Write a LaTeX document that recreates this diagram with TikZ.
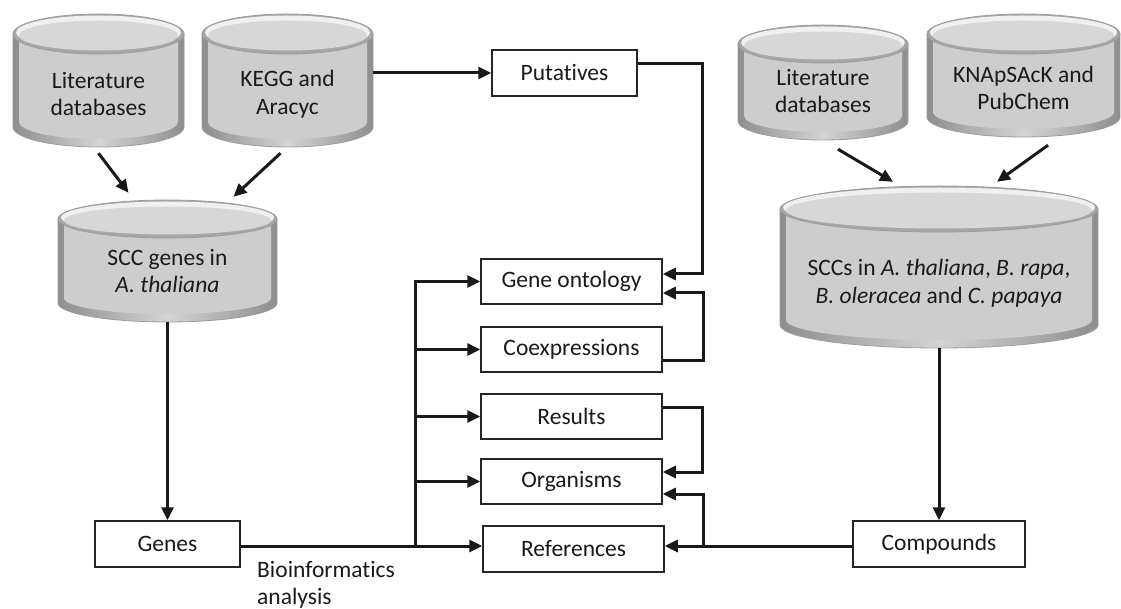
\documentclass[tikz,border=0pt]{standalone}
\usepackage{fontspec}
\setmainfont{Carlito}[Ligatures={NoCommon,NoContextual},Contextuals=NoAlternate]
\usetikzlibrary{arrows.meta}
\definecolor{cylside}{HTML}{8E8E8E}
\definecolor{cylmid}{HTML}{D4D4D4}
\definecolor{cylface}{HTML}{CDCDCD}
\definecolor{cyledge}{HTML}{9C9C9C}
\definecolor{cyltop}{HTML}{D7D7D7}
\definecolor{cyltopedge}{HTML}{A6A6A6}
\definecolor{txt}{HTML}{1A1A1A}
\tikzset{
  rbox/.style={draw=black!85, line width=1.5pt, fill=white, inner sep=0pt, text=txt,
    font=\fontsize{23.5}{27.5}\selectfont},
  cylbox/.style={inner sep=0pt, draw=none},
  cyltext/.style={inner sep=0pt, align=center, text=txt, font=\fontsize{23.5}{27.5}\selectfont},
  plainline/.style={line width=3pt, draw=black!90},
  arr/.style={plainline, -{Triangle[length=13pt,width=12pt]}},
}
\newcommand{\dbcyl}[8]{%
  \pgfmathsetmacro\cxa{(#2+#3)/2}%
  \pgfmathsetmacro\cya{(#4+#5)/2}%
  \pgfmathsetmacro\wa{#3-#2}%
  \pgfmathsetmacro\ha{#5-#4}%
  \pgfmathsetmacro\rxa{(#3-#2)/2}%
  \pgfmathsetmacro\yta{#4+#6}%
  \pgfmathsetmacro\yba{#5-#6}%
  \pgfmathsetmacro\kxa{0.5523*\rxa}%
  \pgfmathsetmacro\kya{0.5523*#6}%
  \pgfmathsetmacro\ybk{\yba+\kya}%
  \pgfmathsetmacro\xla{\cxa-\kxa}%
  \pgfmathsetmacro\xra{\cxa+\kxa}%
  \path[left color=cylside,right color=cylside,middle color=cylmid,draw=cyledge,line width=0.8pt]
    (#2,\yta) -- (#2,\yba) .. controls (#2,\ybk) and (\xla,#5) .. (\cxa,#5)
    .. controls (\xra,#5) and (#3,\ybk) .. (#3,\yba) -- (#3,\yta) -- cycle;
  \pgfmathsetmacro\xia{#2+6}%
  \pgfmathsetmacro\xib{#3-6}%
  \pgfmathsetmacro\ybi{\yba-5}%
  \pgfmathsetmacro\kxi{0.5523*(\rxa-6)}%
  \pgfmathsetmacro\kyi{0.5523*(#6-3)}%
  \pgfmathsetmacro\ybo{#5-8}%
  \pgfmathsetmacro\ybik{\ybi+\kyi}%
  \pgfmathsetmacro\xli{\cxa-\kxi}%
  \pgfmathsetmacro\xri{\cxa+\kxi}%
  \fill[cylface] (\xia,\yta) -- (\xia,\ybi) .. controls (\xia,\ybik) and (\xli,\ybo) .. (\cxa,\ybo)
    .. controls (\xri,\ybo) and (\xib,\ybik) .. (\xib,\ybi) -- (\xib,\yta) -- cycle;
  \pgfmathsetmacro\rxb{\rxa-3}\pgfmathsetmacro\ryb{#6-3}\pgfmathsetmacro\ytb{\yta-1.5}%
  \pgfmathsetmacro\rxc{\rxa-6}\pgfmathsetmacro\ryc{#6-5}\pgfmathsetmacro\ytc{\yta+1.5}%
  \fill[cyltopedge] (\cxa,\yta) ellipse[x radius=\rxa, y radius=#6];
  \fill[white!94!black] (\cxa,\ytb) ellipse[x radius=\rxb, y radius=\ryb];
  \fill[cyltop] (\cxa,\ytc) ellipse[x radius=\rxc, y radius=\ryc];
  \draw[cyledge, line width=0.8pt] (\cxa,\yta) ellipse[x radius=\rxa, y radius=#6];
  \node[cylbox, minimum width=\wa pt, minimum height=\ha pt] (#1) at (\cxa,\cya) {};
  \node[cyltext] (#1-text) at (\cxa,#7) {#8};
}
\begin{document}
\begin{tikzpicture}[x=1pt,y=-1pt]
\useasboundingbox[fill=white] (0,0) rectangle (1121,609);

% cylinders
\dbcyl{lit1}{13}{184}{14}{147}{20}{94}{Literature\\databases}
\dbcyl{kegg}{202}{373}{14}{147}{20}{94}{KEGG and\\Aracyc}
\dbcyl{scc}{58}{277}{200}{322}{19}{271}{SCC genes in\\\textit{A. thaliana}}
\dbcyl{litR}{738}{908}{25}{140}{19}{91}{Literature\\databases}
\dbcyl{knap}{927}{1120}{14}{137}{20}{88}{KNApSAcK and\\PubChem}
\dbcyl{big}{780}{1098}{186}{348}{23}{283}{SCCs in \textit{A. thaliana}, \textit{B. rapa},\\\textit{B. oleracea} and \textit{C. papaya}}

% boxes
\node[rbox, minimum width=145pt, minimum height=46pt] (put) at (564.5,73) {Putatives};
\node[rbox, minimum width=181pt, minimum height=45pt] (go) at (571.5,281.5) {Gene ontology};
\node[rbox, minimum width=181pt, minimum height=45pt] (co) at (571.5,349.5) {Coexpressions};
\node[rbox, minimum width=181pt, minimum height=45pt] (res) at (571.5,416.5) {Results};
\node[rbox, minimum width=181pt, minimum height=45pt] (org) at (571.5,481.5) {Organisms};
\node[rbox, minimum width=181pt, minimum height=46pt] (ref) at (573.5,549) {References};
\node[rbox, minimum width=145pt, minimum height=46pt] (genes) at (167.5,544) {Genes};
\node[rbox, minimum width=172pt, minimum height=46pt] (comp) at (939,544) {Compounds};

\node[cyltext, align=left, anchor=north west] (bio) at (257,561) {Bioinformatics\\analysis};

\coordinate (busL) at (415,546);
\coordinate (busR) at (703,546);

% arrows into SCC genes
\draw[arr] ([yshift=-6pt]lit1.south) -- ([xshift=-39pt,yshift=7pt]scc.north);
\draw[arr] ([xshift=-7pt,yshift=-6pt]kegg.south) -- ([xshift=66pt,yshift=3pt]scc.north);
% arrows into big
\draw[arr] ([xshift=15pt,yshift=-9pt]litR.south) -- ([xshift=-46pt,yshift=4pt]big.north);
\draw[arr] ([xshift=24.5pt,yshift=-8pt]knap.south) -- ([xshift=58pt,yshift=4pt]big.north);

\draw[arr] (scc.south) -- (genes.north);
\draw[arr] (big.south) -- (comp.north);

% KEGG -> Putatives -> Gene ontology
\draw[arr] (kegg.east |- put.west) -- (put.west);
\draw[arr] ([yshift=9pt]put.east) -- ++(65,0) |- ([yshift=7.5pt]go.east);
\draw[arr] ([yshift=-10.5pt]co.east) -- ++(41,0) |- ([yshift=-11.5pt]go.east);
\draw[arr] ([yshift=9.5pt]res.east) -- ++(40,0) |- ([yshift=9.5pt]org.east);

% genes bus
\draw[plainline] (genes.east |- busL) -- (busL);
\draw[arr] (busL) -- (busL -| ref.west);
\draw[arr] (busL) |- (go.west);
\foreach \n in {co,res,org} { \draw[arr] (busL |- \n.west) -- (\n.west); }

% compounds bus
\draw[arr] (comp.west |- busR) -- (busR -| ref.east);
\draw[arr] (busR) |- ([yshift=-12.5pt]org.east);
\end{tikzpicture}
\end{document}
